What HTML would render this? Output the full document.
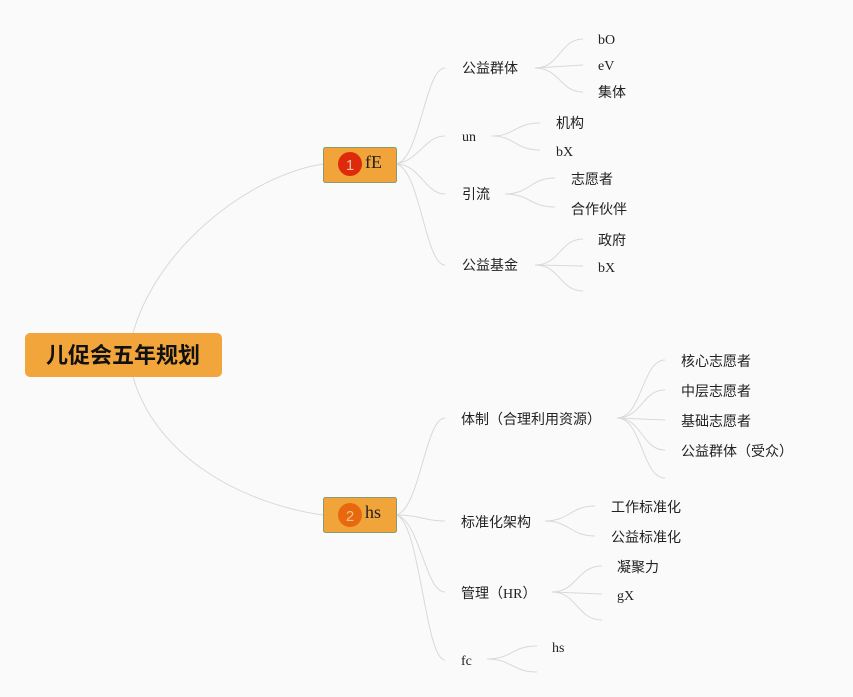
<!DOCTYPE html>
<html><head><meta charset="utf-8"><style>
body{margin:0;background:#fafafa;}
svg{display:block}
text{font-family:"Liberation Serif","Noto Sans CJK SC",sans-serif;font-size:14px;fill:#222;dominant-baseline:middle}
</style></head><body>
<svg width="853" height="697" viewBox="0 0 853 697">
<g fill="none" stroke="#d9d9d9" stroke-width="1">
<path d="M130,345 C150,250 250,175 323,164"/>
<path d="M130,365 C150,460 250,505 323,515"/>
<path d="M396,164 C420,160 425,68 445,68"/>
<path d="M396,164 C420,160 425,136 445,136"/>
<path d="M396,164 C420,164 425,194 445,194"/>
<path d="M396,164 C420,168 425,265 445,265"/>
<path d="M535,68 C560,68 560,39 583,39"/><path d="M535,68 L583,65"/><path d="M535,68 C560,68 560,92 583,92"/>
<path d="M492,136 C515,136 515,123 540,123"/><path d="M492,136 C515,136 515,150 540,150"/>
<path d="M505,194 C530,194 530,178 555,178"/><path d="M505,194 C530,194 530,207 555,207"/>
<path d="M535,265 C560,265 560,239 583,239"/><path d="M535,265 L583,266"/><path d="M535,265 C560,265 560,291 583,291"/>
<path d="M396,515 C420,510 425,418 445,418"/>
<path d="M396,515 C420,515 425,521 445,521"/>
<path d="M396,515 C420,520 425,592 445,592"/>
<path d="M396,515 C420,520 425,660 445,660"/>
<path d="M617,418 C642,418 642,360 665,360"/><path d="M617,418 C642,418 642,390 665,390"/><path d="M617,418 L665,420"/><path d="M617,418 C642,418 642,450 665,450"/><path d="M617,418 C642,418 642,478 665,478"/>
<path d="M545,521 C570,521 570,506 595,506"/><path d="M545,521 C570,521 570,536 595,536"/>
<path d="M552,592 C577,592 577,566 602,566"/><path d="M552,592 L602,594"/><path d="M552,592 C577,592 577,620 602,620"/>
<path d="M487,659 C512,659 512,646 537,646"/><path d="M487,659 C512,659 512,672 537,672"/>
</g>
<rect x="25" y="333" width="197" height="44" rx="5" fill="#f2a53b"/>
<text x="123" y="356" dy="1" text-anchor="middle" style="font-size:22px;font-weight:bold;font-family:'Liberation Sans','Noto Sans CJK SC',sans-serif;fill:#111">儿促会五年规划</text>
<rect x="323.5" y="147.5" width="73" height="35" rx="2" fill="#f0a43a" stroke="#8a9a6a"/>
<circle cx="350" cy="164" r="12" fill="#dd2a0a"/>
<text x="350" y="165" dy="1" text-anchor="middle" style="font-size:15px;fill:#f6c0a0;font-family:'Liberation Sans',sans-serif">1</text>
<text x="365" y="163" dy="1" style="font-size:18px">fE</text>
<rect x="323.5" y="497.5" width="73" height="35" rx="2" fill="#f0a43a" stroke="#8a9a6a"/>
<circle cx="350" cy="515" r="12" fill="#e8680e"/>
<text x="350" y="516" dy="1" text-anchor="middle" style="font-size:15px;fill:#f6c090;font-family:'Liberation Sans',sans-serif">2</text>
<text x="365" y="513" dy="1" style="font-size:18px">hs</text>
<text x="462" y="68" dy="2">公益群体</text><text x="462" y="136" dy="2">un</text><text x="462" y="194" dy="2">引流</text><text x="462" y="265" dy="2">公益基金</text>
<text x="598" y="39" dy="2">bO</text><text x="598" y="65" dy="2">eV</text><text x="598" y="92" dy="2">集体</text>
<text x="556" y="123" dy="2">机构</text><text x="556" y="151" dy="2">bX</text>
<text x="571" y="179" dy="2">志愿者</text><text x="571" y="209" dy="2">合作伙伴</text>
<text x="598" y="240" dy="2">政府</text><text x="598" y="267" dy="2">bX</text>
<text x="461" y="419" dy="2">体制（合理利用资源）</text><text x="461" y="522" dy="2">标准化架构</text><text x="461" y="593" dy="2">管理（HR）</text><text x="461" y="660" dy="2">fc</text>
<text x="681" y="361" dy="2">核心志愿者</text><text x="681" y="391" dy="2">中层志愿者</text><text x="681" y="421" dy="2">基础志愿者</text><text x="681" y="451" dy="2">公益群体（受众）</text>
<text x="611" y="507" dy="2">工作标准化</text><text x="611" y="537" dy="2">公益标准化</text>
<text x="617" y="567" dy="2">凝聚力</text><text x="617" y="595" dy="2">gX</text>
<text x="552" y="647" dy="2">hs</text>
</svg>
</body></html>
